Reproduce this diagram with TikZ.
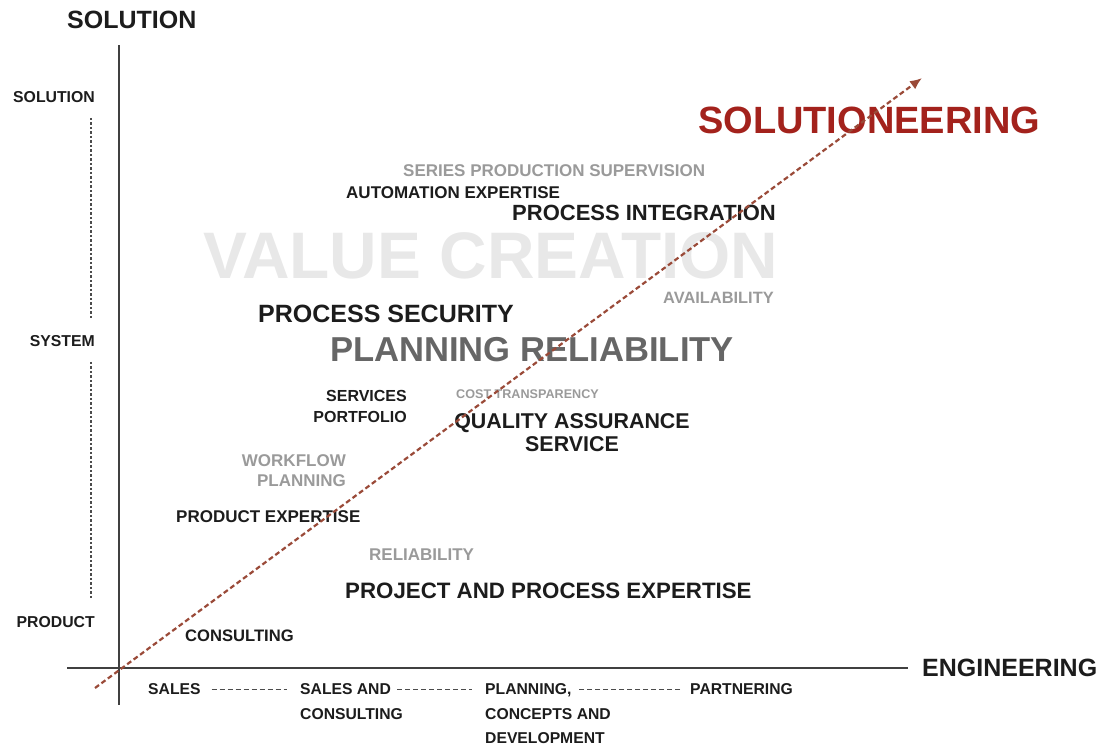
\documentclass[tikz,border=0pt]{standalone}
\usepackage{fontspec}
\setmainfont{Liberation Sans}
\usetikzlibrary{arrows.meta}
\definecolor{txt}{HTML}{1C1C1C}
\definecolor{faded}{HTML}{9A9A9A}
\definecolor{midgrey}{HTML}{666666}
\definecolor{ghost}{HTML}{E8E8E8}
\definecolor{rust}{HTML}{A3221C}
\definecolor{trendcol}{HTML}{9A4A38}
\begin{document}
\begin{tikzpicture}[x=1pt,y=-1pt,
    lbl/.style={inner sep=0pt,text=txt,font=\bfseries\fontsize{#1}{1.2\dimexpr#1pt\relax}\selectfont},
    lbl/.default=16,
    axis/.style={line width=2pt,draw=black!75},
    link/.style={line width=1pt,draw=black!70,dash pattern=on 5pt off 3pt},
    vdots/.style={line width=1.2pt,draw=black!70,dash pattern=on 2.5pt off 2pt},
    trend/.style={line width=2.2pt,draw=trendcol,dash pattern=on 5pt off 3pt,-{Latex[length=12pt,width=10pt]}}]
    \useasboundingbox (0,0) rectangle (1101,745);
    % axes
    \draw[axis] (119,45) -- (119,705);
    \draw[axis] (67,668) -- (908,668);
    \node[lbl=25,anchor=west] (ytitle) at (67,20) {SOLUTION};
    \node[lbl=25,anchor=west] (xtitle) at (922,668) {ENGINEERING};
    % vertical scale
    \node[lbl=15.8,anchor=east] (lsol) at (95,97) {SOLUTION};
    \node[lbl=15.8,anchor=east] (lsys) at (95,341) {SYSTEM};
    \node[lbl=15.8,anchor=east] (lprod) at (95,622) {PRODUCT};
    \draw[vdots] ([shift={(-4,15)}]lsol.south east) -- ([shift={(-4,-17)}]lsys.north east);
    \draw[vdots] ([shift={(-4,15)}]lsys.south east) -- ([shift={(-4,-18)}]lprod.north east);
    % horizontal scale
    \node[lbl=15.7,anchor=west] (sales) at (148,689) {SALES};
    \node[lbl=15.7,anchor=north west,align=left,font=\bfseries\fontsize{15.7}{24.5}\selectfont] (salescons) at (300,683.4) {SALES AND\\CONSULTING};
    \node[lbl=15.7,anchor=north west,align=left,font=\bfseries\fontsize{15.7}{24.5}\selectfont] (planning) at (485,683.4) {PLANNING,\\CONCEPTS AND\\DEVELOPMENT};
    \node[lbl=15.7,anchor=west] (partner) at (690,689) {PARTNERING};
    \draw[link] ([xshift=11pt]sales.east) -- ([xshift=-13pt]sales.east -| salescons.west);
    \draw[link] ([xshift=-6pt]sales.east -| salescons.east) -- ([xshift=-13pt]sales.east -| planning.west);
    \draw[link] ([xshift=-10pt]partner.west) -- ++(-102,0);
    % value labels
    \node[lbl=65.8,anchor=west,text=ghost] (value) at (203,256) {VALUE CREATION};
    \node[lbl=38,anchor=west,text=rust] (soleng) at (698,120) {SOLUTIONEERING};
    \node[lbl=17,anchor=west,text=faded] (series) at (403,171) {SERIES PRODUCTION SUPERVISION};
    \node[lbl=17,anchor=west] (autom) at (346,193) {AUTOMATION EXPERTISE};
    \node[lbl=22,anchor=west] (integ) at (512,213) {PROCESS INTEGRATION};
    \node[lbl=16.4,anchor=west,text=faded] (avail) at (663,298) {AVAILABILITY};
    \node[lbl=25,anchor=west] (secur) at (258,314) {PROCESS SECURITY};
    \node[lbl=34.6,anchor=west,text=midgrey] (planrel) at (330,350) {PLANNING RELIABILITY};
    \node[lbl,anchor=north east,align=right,font=\bfseries\fontsize{16}{21}\selectfont] (servport) at (407,390.3) {SERVICES\\PORTFOLIO};
    \node[lbl=12.6,anchor=west,text=faded] (cost) at (456,394) {COST TRANSPARENCY};
    \node[lbl,anchor=north,align=center,font=\bfseries\fontsize{21.4}{23}\selectfont] (quality) at (572,413.3) {QUALITY ASSURANCE\\SERVICE};
    \node[lbl,anchor=north east,align=right,text=faded,font=\bfseries\fontsize{17}{20}\selectfont] (workflow) at (346,454) {WORKFLOW\\PLANNING};
    \node[lbl=17,anchor=west] (prodexp) at (176,517) {PRODUCT EXPERTISE};
    \node[lbl=17,anchor=west,text=faded] (reliab) at (369,555) {RELIABILITY};
    \node[lbl=22.3,anchor=west] (project) at (345,591) {PROJECT AND PROCESS EXPERTISE};
    \node[lbl=16.6,anchor=west] (consult) at (185,636) {CONSULTING};
    % trend
    \coordinate (tstart) at (95,688);
    \coordinate (tend) at (922,78);
    \draw[trend] (tstart) -- (tend);
\end{tikzpicture}
\end{document}
